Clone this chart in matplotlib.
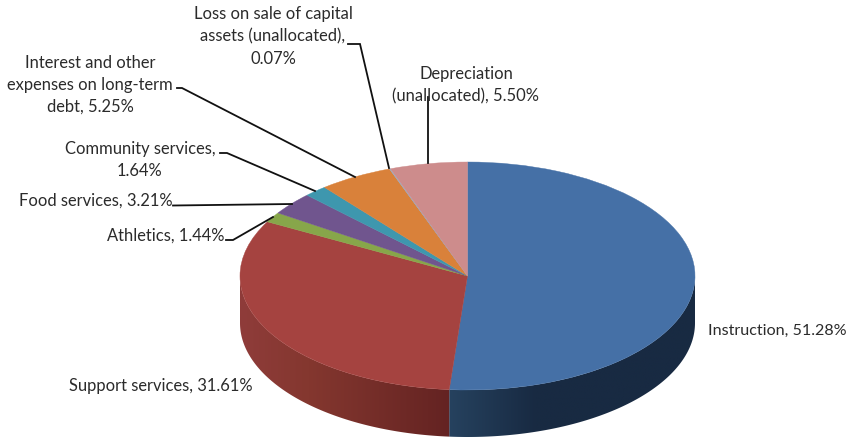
import numpy as np
import matplotlib
matplotlib.use("Agg")
import matplotlib.pyplot as plt
from matplotlib.colors import to_rgb
from matplotlib.patches import Polygon
from matplotlib.transforms import Affine2D

# Slices, clockwise from 12 o'clock
categories = ["Instruction", "Support services", "Athletics", "Food services",
              "Community services", "Interest and other expenses on long-term debt",
              "Loss on sale of capital assets (unallocated)", "Depreciation (unallocated)"]
shares = [51.28, 31.61, 1.44, 3.21, 1.64, 5.25, 0.07, 5.50]
colors = ["#4570a6", "#a54340", "#87a64a", "#70558e", "#3e97ae", "#d9813a", "#8fb0d0", "#cd8c8c"]

W, H = 846, 442
CX, CY, RX, RY, DEPTH = 467.5, 276, 227.5, 114, 47

# side wall shading: x position on the pie (-1..1) -> colour
side_shades = {
    0: ([-0.08, 0.3, 1.0], ["#26425f", "#182a42", "#182a42"]),
    1: ([-1.0, -0.7, -0.08], ["#8f3c3a", "#84372f", "#642322"]),
}

fig = plt.figure(figsize=(W / 100, H / 100), dpi=100)
ax = fig.add_axes([0, 0, 1, 1])

wedges, _ = ax.pie(shares, colors=colors, startangle=90, counterclock=False,
                   wedgeprops=dict(linewidth=0.3, edgecolor="none"))
for w, c in zip(wedges, colors):
    w.set_edgecolor(c)
    w.set_zorder(3)

# side wall of the front half, a horizontal gradient clipped to the wall outline
edges = np.concatenate([[0], np.cumsum(shares)]) / 100 * 2 * np.pi
depth = DEPTH / RY
for i, (pos, cols) in side_shades.items():
    t = np.linspace(max(edges[i], np.pi / 2), min(edges[i + 1], 3 * np.pi / 2), 200)
    x, y = np.sin(t), np.cos(t)
    outline = np.vstack([np.column_stack([x, y]), np.column_stack([x[::-1], y[::-1] - depth])])
    rgb = np.array([to_rgb(c) for c in cols])
    xs = np.linspace(x.min(), x.max(), 256)
    grad = np.column_stack([np.interp(xs, pos, rgb[:, k]) for k in range(3)])[np.newaxis, :, :]
    im = ax.imshow(grad, extent=[x.min(), x.max(), y.min() - depth, y.max()], aspect="auto",
                   interpolation="bilinear", zorder=2)
    im.set_clip_path(Polygon(outline, closed=True, transform=ax.transData))

# pie units: 1 = horizontal / vertical radius of the ellipse
ax.set_aspect("auto")
ax.set_xlim(-CX / RX, (W - CX) / RX)
ax.set_ylim((CY - H) / RY, CY / RY)
ax.axis("off")

# labels and leader lines in image pixels (y down)
px = Affine2D().scale(1, -1).translate(0, H)
text_kw = dict(transform=px, color="#2b2b2b", family="Lato",
               linespacing=1.47, clip_on=False, zorder=5)

labels = [
    ("Loss on sale of capital\nassets (unallocated),\n0.07%", 273, 36.5, "center", 11.9),
    ("Interest and other\nexpenses on long-term\ndebt, 5.25%", 90, 85, "center", 11.9),
    ("Depreciation\n(unallocated), 5.50%", 466, 85, "center", 11.9),
    ("Community services,\n1.64%", 140, 160, "center", 11.9),
    ("Food services, 3.21%", 19, 201, "left", 11.9),
    ("Athletics, 1.44%", 107, 236, "left", 11.9),
    ("Instruction, 51.28%", 708, 331, "left", 11.6),
    ("Support services, 31.61%", 69, 386, "left", 11.9),
]
for s, x, y, ha, size in labels:
    ax.text(x, y, s, ha=ha, va="center", multialignment="center", fontsize=size, **text_kw)

leaders = [
    ([348, 360, 389], [44, 44, 168]),
    ([177, 182, 355], [88, 88, 177]),
    ([220, 227, 315], [153, 153, 191]),
    ([173, 292], [205.5, 204]),
    ([226, 233, 273], [240, 240, 217]),
    ([428, 428], [97, 163]),
]
for xs, ys in leaders:
    ax.plot(xs, ys, transform=px, color="#111111", lw=1.3, solid_joinstyle="miter",
            clip_on=False, zorder=4)

fig.savefig("out.png", dpi=100)
